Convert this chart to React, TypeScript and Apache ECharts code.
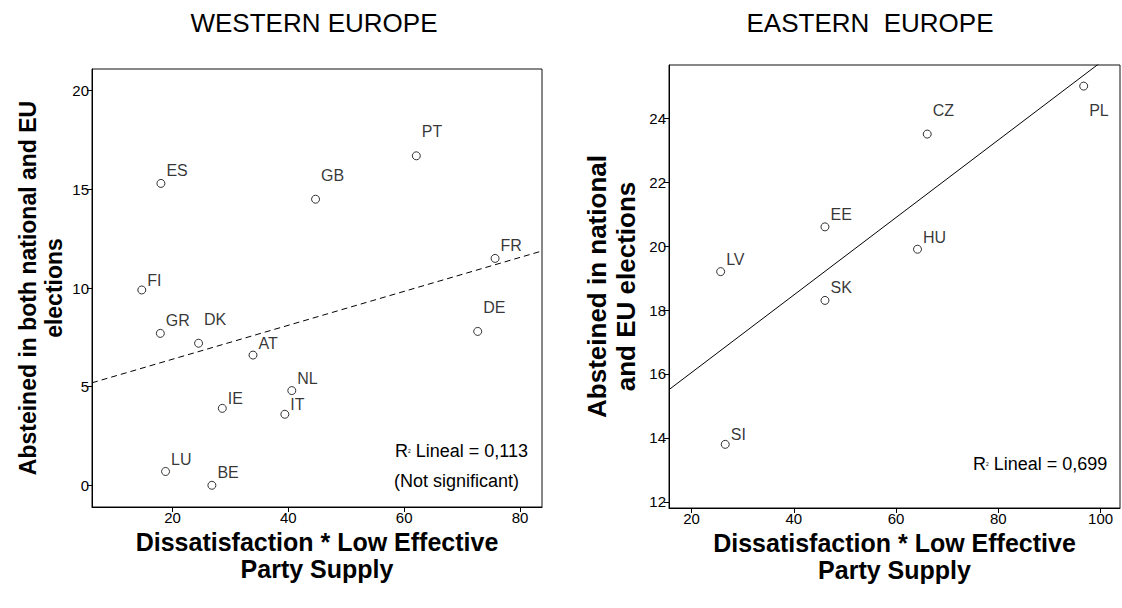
import React, { useEffect, useRef } from "react";
import * as echarts from "echarts";

// ---------- data ----------
const westCountries = ["ES", "GB", "PT", "FR", "FI", "GR", "DK", "AT", "DE", "NL", "IE", "IT", "LU", "BE"];
const westX = [18.0, 44.7, 62.1, 75.7, 14.7, 17.9, 24.5, 33.9, 72.7, 40.6, 28.6, 39.4, 18.8, 26.8];
const westY = [15.3, 14.5, 16.7, 11.5, 9.9, 7.7, 7.2, 6.6, 7.8, 4.8, 3.9, 3.6, 0.7, 0.0];
const westFitIntercept = 4.67;
const westFitSlope = 0.086;
const westR2 = "0,113";

const eastCountries = ["CZ", "PL", "EE", "HU", "LV", "SK", "SI"];
const eastX = [66.1, 96.7, 46.1, 64.2, 25.7, 46.1, 26.6];
const eastY = [23.5, 25.0, 20.6, 19.9, 19.2, 18.3, 13.8];
const eastFitIntercept = 13.62;
const eastFitSlope = 0.1212;
const eastR2 = "0,699";

const westXTicks = [20, 40, 60, 80];
const westYTicks = [0, 5, 10, 15, 20];
const eastXTicks = [20, 40, 60, 80, 100];
const eastYTicks = [12, 14, 16, 18, 20, 22, 24];

// ---------- presentation ----------
const westRange = { xMin: 6.1, xMax: 83.8, yMin: -1.1, yMax: 21.1 };
const eastRange = { xMin: 15.6, xMax: 103.8, yMin: 11.81, yMax: 25.66 };
const labelDy: Record<string, number> = {
  ES: -13, GB: -24, PT: -24, FR: -13, FI: -9.5, GR: -13, DK: -24, AT: -12, DE: -24,
  NL: -12, IE: -9.5, IT: -9.5, LU: -12, BE: -12.5,
  CZ: -23.5, PL: 24.5, EE: -12.5, HU: -12, LV: -12, SK: -12.5, SI: -9.5,
};
const FONT = "'Liberation Sans', Arial, Helvetica, sans-serif";

function points(names: string[], xs: number[], ys: number[]) {
  return names.map((n, i) => ({
    name: n,
    value: [xs[i], ys[i]],
    label: { offset: [0, labelDy[n] ?? -12] },
  }));
}

function axisX(idx: number, r: any, ticks: number[]) {
  return {
    type: "value",
    gridIndex: idx,
    min: r.xMin,
    max: r.xMax,
    name: "Dissatisfaction * Low Effective\nParty Supply",
    nameLocation: "middle",
    nameGap: 21,
    nameMoveOverlap: false,
    nameTextStyle: { fontFamily: FONT, fontSize: 25, fontWeight: "bold", color: "#000", lineHeight: 27 },
    axisLine: { show: true, onZero: false, lineStyle: { color: "#000", width: 1 } },
    axisTick: { show: true, length: 5, lineStyle: { color: "#000" }, customValues: ticks },
    axisLabel: { fontFamily: FONT, fontSize: 15, color: "#000", margin: 3, customValues: ticks },
    splitLine: { show: false },
  };
}

function axisY(idx: number, r: any, ticks: number[], name: string, size: number, gap: number) {
  return {
    type: "value",
    gridIndex: idx,
    min: r.yMin,
    max: r.yMax,
    name,
    nameLocation: "middle",
    nameGap: gap,
    nameTextStyle: { fontFamily: FONT, fontSize: size, fontWeight: "bold", color: "#000", lineHeight: size + 3 },
    axisLine: { show: true, onZero: false, lineStyle: { color: "#000", width: 1 } },
    axisTick: { show: true, length: 5, lineStyle: { color: "#000" }, customValues: ticks },
    axisLabel: { fontFamily: FONT, fontSize: 15, color: "#000", margin: 3, customValues: ticks },
    splitLine: { show: false },
  };
}

function fitLine(r: any, a: number, b: number) {
  return [
    [r.xMin, a + b * r.xMin],
    [r.xMax, a + b * r.xMax],
  ];
}

const scatterBase = {
  type: "scatter",
  symbol: "circle",
  symbolSize: 8,
  itemStyle: { color: "#fff", borderColor: "#000", borderWidth: 1 },
  label: {
    show: true,
    position: "right",
    distance: 1,
    formatter: "{b}",
    fontFamily: FONT,
    fontSize: 16,
    color: "#000",
  },
  z: 3,
};

function r2Text(left: number, top: number, value: string) {
  return {
    type: "text",
    left,
    top,
    style: {
      text: "{r|R}{s|2}{r| Lineal = " + value + "}",
      rich: {
        r: { fontFamily: FONT, fontSize: 18, fill: "#000" },
        s: { fontFamily: FONT, fontSize: 5, fill: "#000" },
      },
    },
  };
}

export default function App() {
  const ref = useRef<HTMLDivElement>(null);
  useEffect(() => {
    if (!ref.current) return;
    const chart = echarts.init(ref.current, undefined, { renderer: "svg" });
    chart.setOption({
      animation: false,
      backgroundColor: "#fff",
      grid: [
        { left: 92, top: 69, width: 450, height: 438, show: true, borderColor: "#111", borderWidth: 1, backgroundColor: "transparent" },
        { left: 669, top: 65, width: 451, height: 443, show: true, borderColor: "#111", borderWidth: 1, backgroundColor: "transparent" },
      ],
      xAxis: [axisX(0, westRange, westXTicks), axisX(1, eastRange, eastXTicks)],
      yAxis: [
        axisY(0, westRange, westYTicks, "Absteined in both national and EU\nelections", 23, 25),
        axisY(1, eastRange, eastYTicks, "Absteined in national\nand EU elections", 26, 29),
      ],
      series: [
        { ...scatterBase, xAxisIndex: 0, yAxisIndex: 0, data: points(westCountries, westX, westY) },
        { ...scatterBase, xAxisIndex: 1, yAxisIndex: 1, data: points(eastCountries, eastX, eastY) },
        {
          type: "line",
          xAxisIndex: 0,
          yAxisIndex: 0,
          data: fitLine(westRange, westFitIntercept, westFitSlope),
          symbol: "none",
          clip: true,
          lineStyle: { color: "#000", width: 1, type: [6, 4] },
          z: 2,
        },
        {
          type: "line",
          xAxisIndex: 1,
          yAxisIndex: 1,
          data: fitLine(eastRange, eastFitIntercept, eastFitSlope),
          symbol: "none",
          clip: true,
          lineStyle: { color: "#000", width: 1 },
          z: 2,
        },
      ],
      graphic: [
        {
          type: "text",
          x: 314,
          y: 23,
          style: { text: "WESTERN EUROPE", fontFamily: FONT, fontSize: 26, fill: "#000", align: "center", verticalAlign: "middle" },
        },
        {
          type: "text",
          x: 870,
          y: 23,
          style: { text: "EASTERN  EUROPE", fontFamily: FONT, fontSize: 26, fill: "#000", align: "center", verticalAlign: "middle" },
        },
        r2Text(395, 442, westR2),
        {
          type: "text",
          left: 394,
          top: 472,
          style: { text: "(Not significant)", fontFamily: FONT, fontSize: 18, fill: "#000" },
        },
        r2Text(973, 455, eastR2),
      ],
    });
    return () => chart.dispose();
  }, []);
  return <div ref={ref} style={{ position: "fixed", left: 0, top: 0, width: 1122, height: 608, background: "#fff" }} />;
}
